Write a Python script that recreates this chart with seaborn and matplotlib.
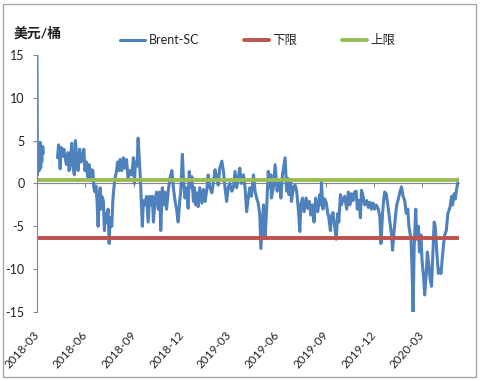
"""Brent-SC spread chart."""
import matplotlib

matplotlib.use("Agg")
import matplotlib.dates as mdates
import matplotlib.pyplot as plt
import numpy as np
import pandas as pd
import seaborn as sns

START = pd.Timestamp("2018-03-26")

# days since START
day_offset = [
    0, 1, 3, 4, 6, 7, 8, 9, 11, 12,
    25,
    39, 41, 44, 46, 49, 51, 54, 56, 59, 61,
    64, 66, 68, 71, 73, 76, 78, 81, 84, 86,
    89, 91, 94, 96, 99, 101, 104, 106, 108, 110,
    112, 114, 116, 118, 120, 121, 123, 126, 128, 130,
    132, 135, 137, 139, 142, 144, 146, 148, 151, 153,
    156, 158, 161, 164, 167, 170, 173, 176, 180, 183,
    185, 187, 190, 192, 195, 197, 200, 202, 205, 208,
    211, 214, 216, 219, 221, 224, 227, 230, 233, 235,
    238, 240, 243, 246, 249, 252, 256, 259, 262, 265,
    268, 271,
    273, 276, 278, 281, 284, 287, 289, 292, 294, 297,
    299, 301, 304, 306, 309, 313, 316, 319, 322, 325,
    328, 332, 335, 338, 341, 344, 347, 351, 354, 357,
    360, 363, 366, 370, 373, 376, 379, 382, 385, 388,
    392, 395, 398, 401, 404, 407, 411, 414, 417, 420,
    423, 425, 428, 430, 433, 436, 439, 441, 444, 445,
    449, 452, 454, 456, 458, 461, 463, 466, 471, 474,
    476, 478, 482, 483, 487, 490, 493, 496, 499, 501,
    504, 507, 511, 514, 517, 520, 523, 526, 529, 533,
    537,
    539, 540, 543, 546, 549, 552, 554, 557, 559, 562,
    565, 568, 571, 573, 576, 578, 581, 584, 588, 591,
    594, 597, 600, 603, 606, 608, 611, 614, 616, 619,
    622, 626, 629, 632, 635, 638, 641, 644, 648, 651,
    653, 656, 658, 660, 663, 667, 670, 673, 675, 678,
    681, 683, 686, 689, 692, 695, 698, 701, 704, 706,
    710, 712, 714, 716, 719, 721, 724, 726, 729, 731,
    734, 736, 739, 741, 744, 746, 749, 751, 754, 756,
    759, 762, 764, 767, 769, 772, 774, 777, 780, 784,
    787, 789, 792, 794, 797, 800, 801,
]

brent_sc = [
    15.0, 1.0, 4.5, 1.5, 4.8, 1.8, 4.0, 2.5, 4.3, 3.5,
    np.nan,
    3.0, 4.5, 1.7, 4.2, 3.2, 4.0, 2.8, 2.2, 3.6, 1.5,
    3.2, 4.7, 2.0, 1.0, 5.0, 2.6, 1.5, 4.0, 2.5, 3.0,
    4.0, 1.5, 2.5, 0.8, 2.2, 0.6, 1.6, 1.5, -0.5, -1.0,
    -0.3, -2.0, -5.0, -2.0, -0.5, -3.0, -1.5, -2.0, -5.5, -3.5,
    -4.5, -3.0, -7.0, -4.0, -5.0, -2.0, -0.5, 0.5, 1.5, 2.5,
    1.5, 2.8, 1.5, 3.0, 1.8, 2.8, 0.5, 1.5, 1.0, 3.0,
    0.0, 2.5, 2.0, 5.3, 2.0, -0.5, -5.0, -2.0, -2.5, -1.5,
    -4.5, -1.5, -2.5, -1.5, -4.5, -2.0, -1.0, -3.0, -1.0, -5.5,
    -0.5, -2.5, -1.0, -3.0, -1.0, 0.5, 1.5, -0.5, -2.0, -3.0,
    -4.5, -2.0,
    -0.9, 3.4, 0.6, -1.7, -0.5, -2.9, 1.4, -0.5, 0.8, -2.1,
    -0.5, -2.5, -1.1, -2.7, -0.5, -2.3, -0.7, -2.1, -0.9, 1.0,
    -0.4, -1.1, 0.2, 1.6, 0.8, -0.2, 1.8, 2.6, 1.4, -0.5,
    -2.1, -0.5, 0.0, -0.9, -0.4, 1.4, -0.5, 0.6, 1.8, 0.0,
    1.0, -0.5, -3.3, -1.7, -0.5, -1.5, 1.0, -0.9, -1.7, -2.3,
    -3.7, -7.6, -4.5, -2.5, -6.4, -2.9, 1.4, -0.5, 1.0, -1.7,
    -0.4, 2.2, 0.6, -0.9, 0.4, -0.2, -1.7, 1.0, 3.0, -0.9,
    0.6, -1.3, 0.4, -2.1, -0.5, -0.2, -0.9, -2.9, -5.6, -2.5,
    -1.7, -3.3, -1.7, -2.9, -2.1, -3.7, -2.5, -4.5, -1.7, -3.3,
    -1.3,
    -2.5, 0.1, -3.0, -1.8, -2.2, -3.5, -4.0, -5.5, -3.8, -3.4,
    -5.0, -6.5, -3.5, -4.5, -1.3, -2.5, -1.8, -1.5, -3.0, -1.0,
    -2.5, -1.2, -2.0, -1.0, -0.9, -3.0, -2.0, -4.0, -0.8, -1.5,
    -2.5, -2.0, -2.8, -2.2, -3.0, -2.3, -3.0, -2.5, -3.0, -4.0,
    -7.0, -3.5, -2.0, -1.0, -1.2, -3.0, -4.5, -6.0, -7.8, -5.5,
    -3.5, -2.5, -1.8, -1.0, -0.4, -1.5, -2.0, -3.5, -3.0, -5.0,
    -6.5, -10.0, -15.0, -7.5, -3.0, -6.5, -5.0, -8.0, -6.0, -9.0,
    -11.0, -13.0, -10.5, -8.0, -9.5, -11.0, -12.0, -9.0, -4.5, -5.0,
    -8.0, -10.5, -10.0, -10.5, -9.0, -7.0, -6.0, -5.5, -3.5, -2.8,
    -1.5, -2.5, -1.2, -1.8, -0.5, 0.5, 0.4,
]

lower_limit = -6.4
upper_limit = 0.4

series_names = ["Brent-SC", "下限", "上限"]
series_colors = ["#4F81BD", "#C0504D", "#9BBB59"]

tick_labels = ["2018-03", "2018-06", "2018-09", "2018-12", "2019-03",
               "2019-06", "2019-09", "2019-12", "2020-03"]
y_ticks = [-15, -10, -5, 0, 5, 10, 15]
y_unit = "美元/桶"

sns.set_theme(style="white")
plt.rcParams["font.family"] = ["Lato", "Noto Sans CJK SC", "DejaVu Sans"]
plt.rcParams["axes.unicode_minus"] = False

dates = START + pd.to_timedelta(day_offset, unit="D")
df = pd.DataFrame({"date": dates, "spread": brent_sc})
# missing quotes split the line into separate runs
df["run"] = df["spread"].isna().cumsum()
df = df.dropna()
ends = [dates[0], dates[-1]]
tick_dates = [START + pd.DateOffset(months=3 * i) for i in range(len(tick_labels))]
tick_nums = mdates.date2num(tick_dates)

fig = plt.figure(figsize=(4.84, 3.81), dpi=100)
ax = fig.add_axes([0.0764, 0.181, 0.8718, 0.675])

sns.lineplot(data=df, x="date", y="spread", units="run", estimator=None,
             ax=ax, color=series_colors[0], lw=2.2, label=series_names[0])
sns.lineplot(x=ends, y=[lower_limit] * 2, ax=ax, color=series_colors[1],
             lw=2.8, label=series_names[1])
sns.lineplot(x=ends, y=[upper_limit] * 2, ax=ax, color=series_colors[2],
             lw=2.8, label=series_names[2])

ax.set_xlim(ends[0], ends[1])
ax.set_ylim(-15, 15)
ax.set_yticks(y_ticks)
ax.set_xticks(tick_nums)
ax.set_xlabel("")
ax.set_ylabel("")

for side in ["top", "right"]:
    ax.spines[side].set_visible(False)
ax.spines["left"].set_color("#868686")
ax.spines["left"].set_linewidth(0.8)
ax.spines["bottom"].set_position(("data", 0))
ax.spines["bottom"].set_color("#868686")
ax.spines["bottom"].set_linewidth(0.8)
ax.spines["bottom"].set_zorder(0)
ax.tick_params(axis="y", left=True, direction="out", length=3, width=0.8,
               color="#868686", labelsize=9, pad=6, labelcolor="#222222")
ax.tick_params(axis="x", bottom=True, direction="out", length=3, width=0.8,
               color="#868686", labelbottom=False)

# date labels sit at the bottom of the plot area
sec = ax.secondary_xaxis("bottom")
sec.set_xticks(tick_nums, labels=tick_labels)
sec.spines["bottom"].set_visible(False)
sec.tick_params(length=0, pad=15, labelsize=8.5, labelcolor="#222222")
for lab in sec.get_xticklabels():
    lab.set_rotation(48)
    lab.set_ha("right")
    lab.set_va("center")
    lab.set_rotation_mode("anchor")

handles, labels = ax.get_legend_handles_labels()
by_label = dict(zip(labels, handles))
ax.legend(list(by_label.values()), list(by_label.keys()), loc="center left",
          bbox_to_anchor=(0.236, 0.895), bbox_transform=fig.transFigure,
          ncol=3, frameon=False, handlelength=2.0, handletextpad=0.25,
          columnspacing=3.6, borderpad=0, fontsize=9)

fig.text(0.027, 0.913, y_unit, fontsize=10, fontweight="bold",
         va="center", ha="left", color="#222222")

fig.add_artist(plt.Rectangle((0.006, 0.0105), 0.977, 0.979,
                             transform=fig.transFigure, fill=False,
                             edgecolor="#a6a6a6", lw=1))

fig.savefig("out.png", dpi=100)
plt.close(fig)
